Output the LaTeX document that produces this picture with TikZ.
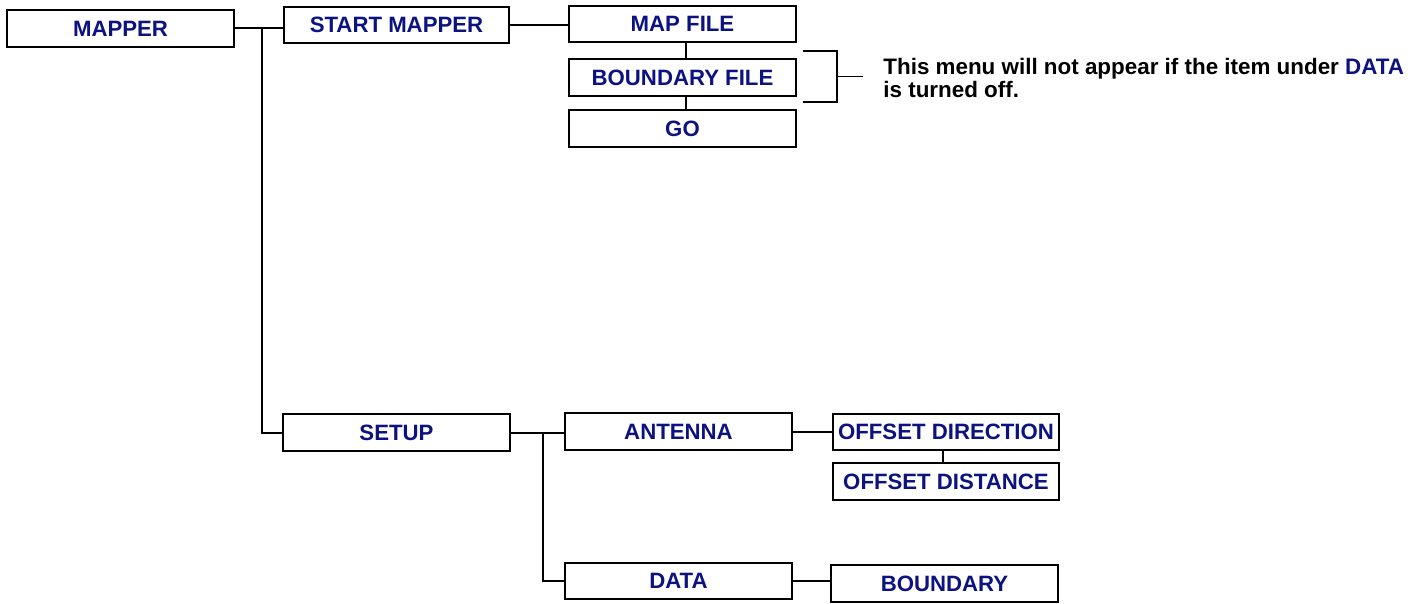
\documentclass[tikz,border=0pt]{standalone}
\usepackage{fontspec}
\setmainfont{Liberation Sans}
\definecolor{navy}{RGB}{12,18,128}
\begin{document}
\begin{tikzpicture}[x=0.5pt,y=-0.5pt,
  box/.style args={#1x#2}{draw=black,line width=1pt,fill=white,inner sep=0pt,
    minimum width=#1*0.5pt,minimum height=#2*0.5pt,
    font=\fontsize{11.1}{13}\selectfont\bfseries,text=navy},
  conn/.style={draw=black,line width=1pt}]
\useasboundingbox (0,0) rectangle (1423,604);
\node[box=227x37] (mapper) at (120.5,28.5) {MAPPER};
\node[box=225x36] (sm) at (396.5,25) {START MAPPER};
\node[box=227x36] (mapfile) at (682.5,24) {MAP FILE};
\node[box=227x37] (bfile) at (682.5,77.5) {BOUNDARY FILE};
\node[box=227x37] (go) at (682.5,128.5) {GO};
\node[box=227x37] (setup) at (396.5,432.5) {SETUP};
\node[box=227x37] (antenna) at (678.5,431.5) {ANTENNA};
\node[box=227x36] (data) at (678.5,581) {DATA};
\node[box=226x36] (odir) at (946,432) {OFFSET DIRECTION};
\node[box=226x37] (odist) at (946,481.5) {OFFSET DISTANCE};
\node[box=227x37] (boundary) at (944.5,583.5) {BOUNDARY};
% connectors
\coordinate (j1) at (262,28);
\coordinate (j2) at (543,433);
\draw[conn] (mapper.east |- j1) -- (sm.west |- j1);
\draw[conn] (j1) -- (j1 |- setup.west) -- (setup.west);
\draw[conn] (sm.east) -- (mapfile.west |- sm.east);
\draw[conn] (mapfile.south -| 686,0) -- (bfile.north -| 686,0);
\draw[conn] (bfile.south -| 686,0) -- (go.north -| 686,0);
\draw[conn] (setup.east |- j2) -- (antenna.west |- j2);
\draw[conn] (j2) -- (j2 |- data.west) -- (data.west);
\draw[conn] (antenna.east |- odir.west) -- (odir.west);
\draw[conn] (odir.south -| 943,0) -- (odist.north -| 943,0);
\draw[conn] (data.east) -- (boundary.west |- data.east);
% bracket
\coordinate (bt) at (803,51);
\coordinate (bb) at (803,102);
\coordinate (bm) at (837,76.5);
\coordinate (be) at (863,76.5);
\draw[conn,line width=0.7pt] (bt) -- (bt -| bm) -- (bb -| bm) -- (bb);
\draw[conn,line width=0.7pt] (bm) -- (be);
\node[anchor=base west,inner sep=0pt,align=left,
  font=\fontsize{11.2}{11.5}\selectfont\bfseries] (note) at (883,98)
  {This menu will not appear if the item under \textcolor{navy}{DATA}\\is turned off.};
\end{tikzpicture}
\end{document}
